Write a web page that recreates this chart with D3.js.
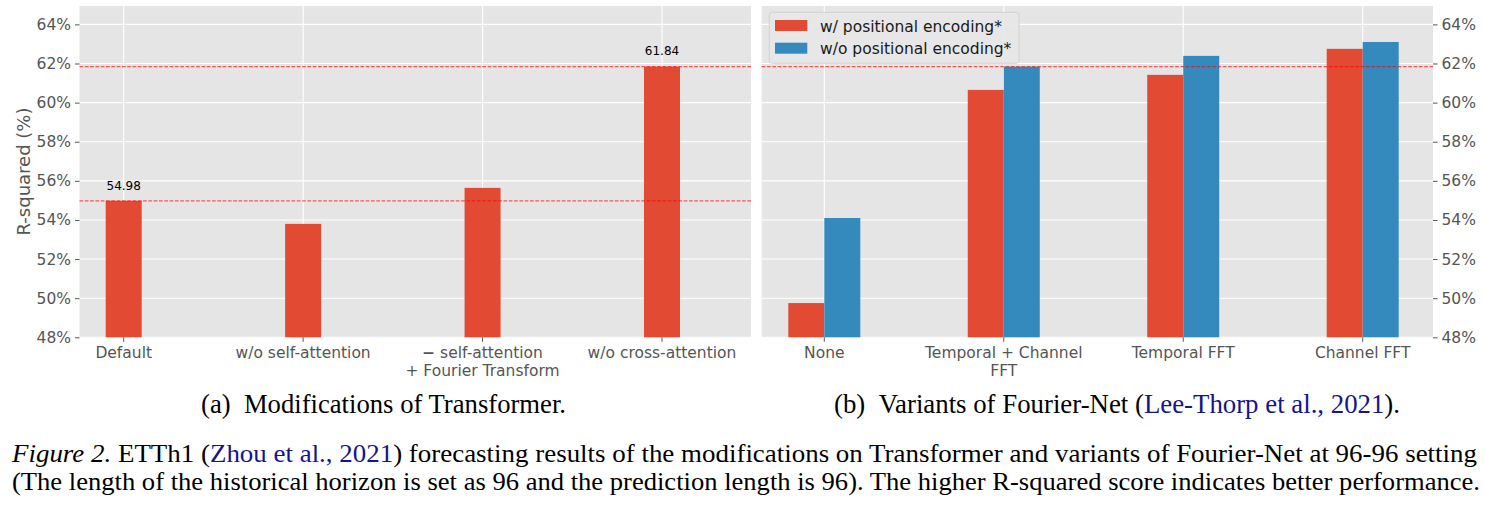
<!DOCTYPE html>
<html><head><meta charset="utf-8">
<script src="https://cdn.jsdelivr.net/npm/d3@7/dist/d3.min.js"></script>
<style>
html,body{margin:0;padding:0;background:#fff;}
svg{display:block;}
</style></head>
<body>
<svg id="chart" width="1485" height="509"></svg>
<script>
// ---------- data ----------
const leftCategories = ["Default", "w/o self-attention", "\u2212 self-attention\n+ Fourier Transform", "w/o cross-attention"];
const leftValues = [54.98, 53.80, 55.64, 61.84];
const leftAnnotated = [0, 3];
const leftRefLines = [61.84, 54.98];

const rightCategories = ["None", "Temporal + Channel\nFFT", "Temporal FFT", "Channel FFT"];
const withPE = [49.75, 60.65, 61.42, 62.75];
const withoutPE = [54.10, 61.84, 62.39, 63.10];
const rightRefLines = [61.84];
const seriesNames = ["w/ positional encoding*", "w/o positional encoding*"];

const yTicks = [48, 50, 52, 54, 56, 58, 60, 62, 64];
const yLabel = "R-squared (%)";
const captionA = [["(a)\u2002Modifications of Transformer.", null]];
const captionB = [["(b)\u2002Variants of Fourier-Net (", null], ["Lee-Thorp et al., 2021", "cite"], [").", null]];
const figLine1 = [["Figure 2.", "ital"], [" ETTh1 (", null], ["Zhou et al., 2021", "cite"], [") forecasting results of the modifications on Transformer and variants of Fourier-Net at 96-96 setting", null]];
const figLine2 = [["(The length of the historical horizon is set as 96 and the prediction length is 96). The higher R-squared score indicates better performance.", null]];

// ---------- style ----------
const RED = "#E24A33", BLUE = "#348ABD", BG = "#E5E5E5", TXT = "#555555";
const FONT = "'DejaVu Sans', sans-serif";
const SERIF = "'Liberation Serif', 'Times New Roman', serif";
const CITE = "#15158a";

const svg = d3.select("#chart");
const plotTop = 6, plotBottom = 337.3;
const y = d3.scaleLinear().domain([48, 64.94]).range([plotBottom, plotTop]);
const barW = 36;

function panel(x0, x1, centers, side) {
  const g = svg.append("g");
  g.append("rect").attr("x", x0).attr("y", plotTop).attr("width", x1 - x0).attr("height", plotBottom - plotTop).attr("fill", BG);
  g.selectAll("line.hg").data(yTicks).join("line").attr("class", "hg")
    .attr("x1", x0).attr("x2", x1).attr("y1", d => y(d)).attr("y2", d => y(d))
    .attr("stroke", "#fff").attr("stroke-width", 1.1);
  g.selectAll("line.vg").data(centers).join("line").attr("class", "vg")
    .attr("x1", d => d).attr("x2", d => d).attr("y1", plotTop).attr("y2", plotBottom)
    .attr("stroke", "#fff").attr("stroke-width", 1.1);
  g.selectAll("line.xt").data(centers).join("line").attr("class", "xt")
    .attr("x1", d => d).attr("x2", d => d).attr("y1", plotBottom).attr("y2", plotBottom + 4.5)
    .attr("stroke", TXT).attr("stroke-width", 1);
  const ax = side === "left" ? d3.axisLeft(y) : d3.axisRight(y);
  ax.tickValues(yTicks).tickFormat(d => d + "%").tickSize(4.5).tickPadding(4);
  const ag = svg.append("g").attr("transform", `translate(${side === "left" ? x0 : x1},0)`).call(ax);
  ag.select(".domain").remove();
  ag.selectAll(".tick line").attr("stroke", TXT);
  ag.selectAll(".tick text").attr("fill", TXT).attr("font-family", FONT).attr("font-size", "15.5px");
  return g;
}

function xLabels(g, scale, cats) {
  cats.forEach(c => {
    const lines = c.split("\n");
    const t = g.append("text").attr("text-anchor", "middle").attr("font-family", FONT)
      .attr("font-size", "15.5px").attr("fill", TXT);
    lines.forEach((ln, i) => {
      const ts = t.append("tspan").attr("x", scale(c)).attr("y", 358 + i * 17.5);
      if (ln.startsWith("\u2212")) {
        ts.append("tspan").attr("font-weight", "bold").text("\u2212");
        ts.append("tspan").text(ln.slice(1));
      } else ts.text(ln);
    });
  });
}

function refLines(g, x0, x1, vals) {
  g.selectAll("line.ref").data(vals).join("line").attr("class", "ref")
    .attr("x1", x0).attr("x2", x1).attr("y1", d => y(d)).attr("y2", d => y(d))
    .attr("stroke", "#ff0000").attr("stroke-opacity", 0.62).attr("stroke-width", 1.2)
    .attr("stroke-dasharray", "3.7,1.6");
}

// ----- left panel -----
const Lx0 = 79.5, Lx1 = 751;
const xL = d3.scalePoint().domain(leftCategories).range([123.7, 662]);
const gL = panel(Lx0, Lx1, leftCategories.map(c => xL(c)), "left");
gL.selectAll("rect.bar").data(leftValues).join("rect").attr("class", "bar")
  .attr("x", (d, i) => xL(leftCategories[i]) - barW / 2).attr("width", barW)
  .attr("y", d => y(d)).attr("height", d => plotBottom - y(d)).attr("fill", RED);
refLines(gL, Lx0, Lx1, leftRefLines);
gL.selectAll("text.ann").data(leftAnnotated).join("text").attr("class", "ann")
  .attr("x", i => xL(leftCategories[i])).attr("y", i => y(leftValues[i] * 1.01))
  .attr("text-anchor", "middle").attr("font-family", FONT).attr("font-size", "12px").attr("fill", "#000")
  .text(i => leftValues[i].toFixed(2));
xLabels(gL, xL, leftCategories);

svg.append("text").attr("transform", "translate(30,171.5) rotate(-90)").attr("text-anchor", "middle")
  .attr("font-family", FONT).attr("font-size", "18px").attr("fill", TXT).text(yLabel);

// ----- right panel -----
const Rx0 = 761.7, Rx1 = 1433;
const xR = d3.scalePoint().domain(rightCategories).range([824.3, 1362.7]);
const gR = panel(Rx0, Rx1, rightCategories.map(c => xR(c)), "right");
gR.selectAll("rect.w").data(withPE).join("rect").attr("class", "w")
  .attr("x", (d, i) => xR(rightCategories[i]) - barW).attr("width", barW)
  .attr("y", d => y(d)).attr("height", d => plotBottom - y(d)).attr("fill", RED);
gR.selectAll("rect.wo").data(withoutPE).join("rect").attr("class", "wo")
  .attr("x", (d, i) => xR(rightCategories[i])).attr("width", barW)
  .attr("y", d => y(d)).attr("height", d => plotBottom - y(d)).attr("fill", BLUE);
refLines(gR, Rx0, Rx1, rightRefLines);
xLabels(gR, xR, rightCategories);

// legend
const lg = svg.append("g");
lg.append("rect").attr("x", 769.3).attr("y", 12.3).attr("width", 249.7).attr("height", 51).attr("rx", 3)
  .attr("fill", "#E7E7E7").attr("fill-opacity", 0.9).attr("stroke", "#D2D2D2").attr("stroke-width", 1);
const legendColors = [RED, BLUE];
seriesNames.forEach((n, i) => {
  lg.append("rect").attr("x", 775).attr("y", 20 + i * 22.7).attr("width", 32.3).attr("height", 11).attr("fill", legendColors[i]);
  lg.append("text").attr("x", 820).attr("y", 31.5 + i * 22.7).attr("font-family", FONT).attr("font-size", "15.5px")
    .attr("fill", "#1a1a1a").text(n);
});

// ----- captions -----
function serifLine(parts, x, yb, len, anchor, size) {
  const t = svg.append("text").attr("x", x).attr("y", yb).attr("font-family", SERIF).attr("font-size", size + "px")
    .attr("fill", "#000").attr("text-anchor", anchor)
    .attr("textLength", len).attr("lengthAdjust", "spacingAndGlyphs");
  parts.forEach(([s, k]) => {
    const ts = t.append("tspan").text(s);
    if (k === "cite") ts.attr("fill", CITE);
    if (k === "ital") ts.attr("font-style", "italic");
  });
}
serifLine(captionA, 201, 413, 365, "start", 27);
serifLine(captionB, 834, 413, 566, "start", 27);
serifLine(figLine1, 12, 462, 1465, "start", 25.5);
serifLine(figLine2, 12, 489.5, 1468, "start", 25.5);
</script>
</body></html>
